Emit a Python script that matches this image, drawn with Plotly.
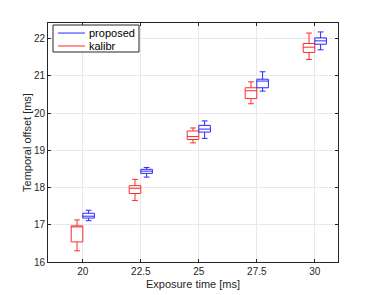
import plotly.graph_objects as go

exposure = [20, 22.5, 25, 27.5, 30]

# proposed (blue)
prop_low = [17.11, 18.28, 19.32, 20.59, 21.70]
prop_q1 = [17.18, 18.38, 19.49, 20.68, 21.85]
prop_med = [17.23, 18.44, 19.57, 20.86, 21.94]
prop_q3 = [17.31, 18.49, 19.67, 20.91, 22.02]
prop_high = [17.39, 18.54, 19.79, 21.11, 22.18]

# kalibr (red)
kal_low = [16.30, 17.65, 19.20, 20.25, 21.44]
kal_q1 = [16.54, 17.84, 19.29, 20.39, 21.63]
kal_med = [16.95, 17.98, 19.37, 20.60, 21.77]
kal_q3 = [16.97, 18.05, 19.52, 20.68, 21.87]
kal_high = [17.13, 18.22, 19.60, 20.84, 22.15]

x_ticks = [20, 22.5, 25, 27.5, 30]
y_ticks = [16, 17, 18, 19, 20, 21, 22]
series_names = ["proposed", "kalibr"]

RED = "#ff2a2a"
BLUE = "#2a2aff"
AX = "#262626"
FONT = "Liberation Sans"

fig = go.Figure()

fig.add_trace(go.Box(
    x=[e - 0.25 for e in exposure],
    q1=kal_q1, median=kal_med, q3=kal_q3,
    lowerfence=kal_low, upperfence=kal_high,
    width=0.5, whiskerwidth=0.5,
    fillcolor="rgba(0,0,0,0)",
    line=dict(color=RED, width=1),
    boxpoints=False, showlegend=False, name="kalibr",
))
fig.add_trace(go.Box(
    x=[e + 0.25 for e in exposure],
    q1=prop_q1, median=prop_med, q3=prop_q3,
    lowerfence=prop_low, upperfence=prop_high,
    width=0.5, whiskerwidth=0.5,
    fillcolor="rgba(0,0,0,0)",
    line=dict(color=BLUE, width=1),
    boxpoints=False, showlegend=False, name="proposed",
))

# MATLAB-style legend drawn in paper coordinates
shapes = [
    dict(type="rect", xref="paper", yref="paper",
         x0=0.0172, x1=0.3138, y0=0.8787, y1=0.9916,
         line=dict(color=AX, width=1), fillcolor="white", layer="above"),
]
annotations = []
for name, col, yy in [(series_names[0], BLUE, 0.958), (series_names[1], RED, 0.9038)]:
    shapes.append(dict(type="line", xref="paper", yref="paper",
                       x0=0.0345, x1=0.1276, y0=yy, y1=yy,
                       line=dict(color=col, width=1), layer="above"))
    annotations.append(dict(xref="paper", yref="paper", x=0.134, y=yy,
                            xanchor="left", yanchor="middle", text=name,
                            showarrow=False, font=dict(size=11, color="black")))

# page body has an 8px default margin, so the figure is shifted by (8, 8)
fig.update_layout(
    width=366, height=287,
    margin=dict(l=40, r=36, t=15, b=33),
    paper_bgcolor="white", plot_bgcolor="white",
    font=dict(family=FONT, size=10, color=AX),
    boxmode="overlay",
    showlegend=False,
    shapes=shapes,
    annotations=annotations,
)

fig.update_xaxes(
    range=[18.5, 31], tickvals=x_ticks, ticktext=[str(t) for t in x_ticks],
    showgrid=True, gridcolor="#e8e8e8", zeroline=False,
    showline=True, linecolor=AX, linewidth=1, mirror="ticks",
    ticks="inside", ticklen=3, tickcolor=AX, automargin=False,
    title=dict(text="Exposure time [ms]", font=dict(size=11), standoff=4),
)
fig.update_yaxes(
    range=[16, 22.42], tickvals=y_ticks,
    showgrid=True, gridcolor="#e8e8e8", zeroline=False,
    showline=True, linecolor=AX, linewidth=1, mirror="ticks",
    ticks="inside", ticklen=3, tickcolor=AX, automargin=False,
    title=dict(text="Temporal offset [ms]", font=dict(size=11), standoff=0),
)

fig.write_html("out.html")
